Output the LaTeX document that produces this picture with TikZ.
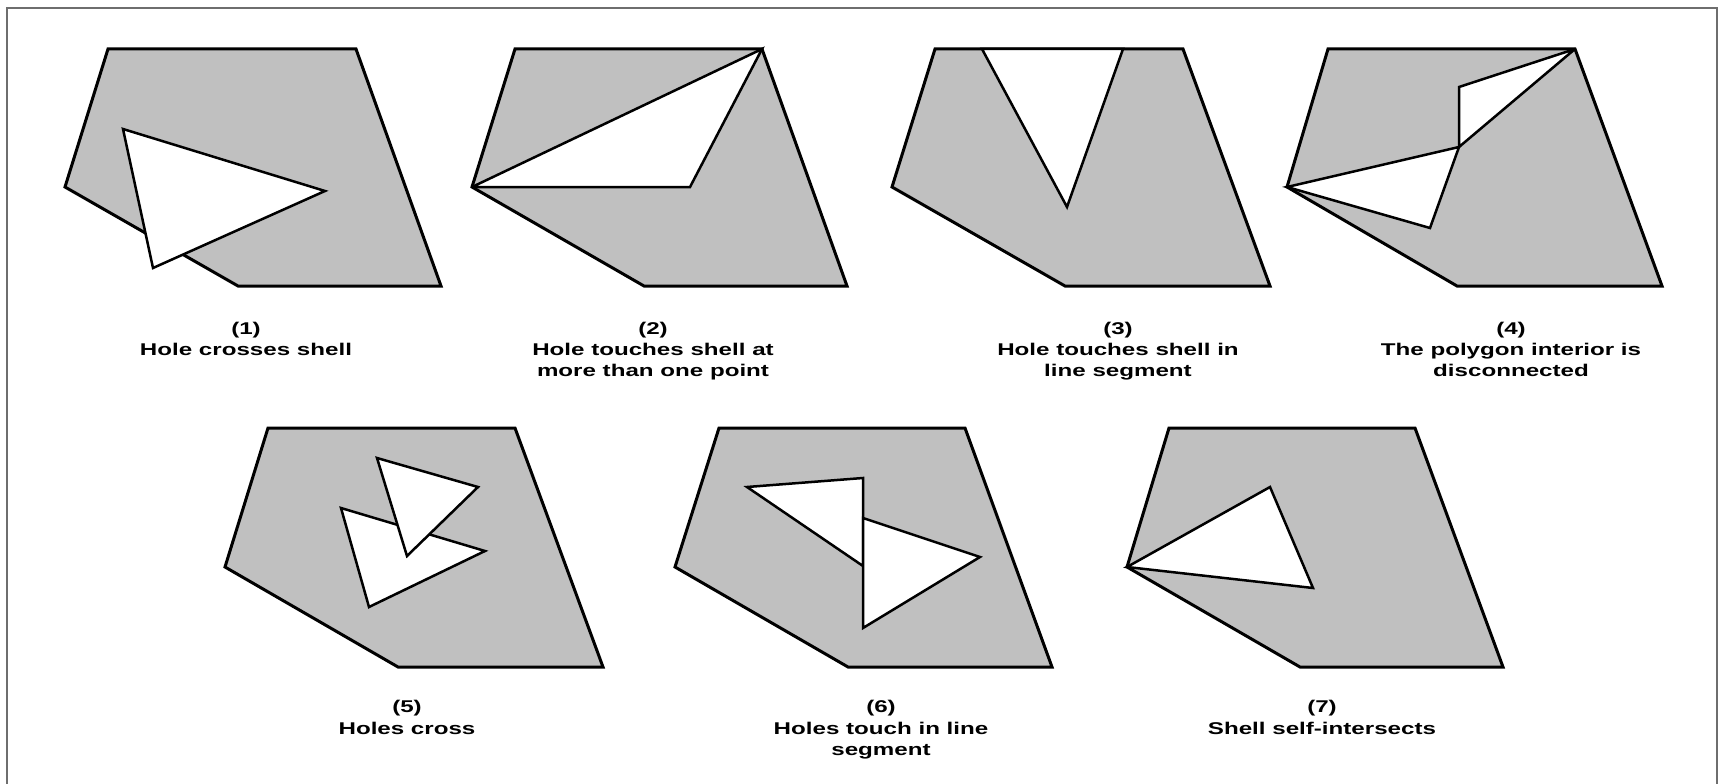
\documentclass[tikz,border=0pt]{standalone}
\usepackage{fontspec}
\newfontfamily\labfont[FakeStretch=1.42]{Liberation Sans}
\definecolor{shellgray}{RGB}{192,192,192}
\definecolor{framegray}{RGB}{110,110,110}
\tikzset{
  shell/.style={fill=shellgray, draw=black, line width=3pt, line join=miter, miter limit=4},
  hole/.style={fill=white, draw=black, line width=2.5pt, line join=miter, miter limit=4},
  lab/.style={font=\labfont\bfseries\fontsize{17}{21}\selectfont, inner sep=0pt, anchor=base},
  frame/.style={draw=framegray, line width=2.5pt}
}
\begin{document}
\begin{tikzpicture}[x=1pt,y=-1pt]
\useasboundingbox (0,0) rectangle (1719,784);
\fill[white] (0,0) rectangle (1719,784);
\draw[frame] (7,790) -- (7,8) -- (1717,8) -- (1717,790);

% (1)
\draw[shell] (108,49) -- (356,49) -- (441,286) -- (238,286) -- (65,187) -- cycle;
\draw[hole] (123,129) -- (325,191) -- (153,268) -- cycle;
\node[lab] (n1) at (246,334) {(1)};
\node[lab] (d1a) at (246,355) {Hole crosses shell};

% (2)
\draw[shell] (515,49) -- (762,49) -- (847,286) -- (644,286) -- (472,187) -- cycle;
\draw[hole] (472,187) -- (762,49) -- (690,187) -- cycle;
\node[lab] (n2) at (653,334) {(2)};
\node[lab] (d2a) at (653,355) {Hole touches shell at};
\node[lab] (d2b) at (653,376) {more than one point};

% (3)
\draw[shell] (935,49) -- (1183,49) -- (1270,286) -- (1065,286) -- (892,187) -- cycle;
\draw[hole] (982,49) -- (1123,49) -- (1067,207) -- cycle;
\node[lab] (n3) at (1118,334) {(3)};
\node[lab] (d3a) at (1118,355) {Hole touches shell in};
\node[lab] (d3b) at (1118,376) {line segment};

% (4)
\draw[shell] (1328,49) -- (1575,49) -- (1662,286) -- (1457,286) -- (1287,187) -- cycle;
\draw[hole] (1287,187) -- (1459,147) -- (1430,228) -- cycle;
\draw[hole] (1459,147) -- (1575,49) -- (1459,87) -- cycle;
\node[lab] (n4) at (1511,334) {(4)};
\node[lab] (d4a) at (1511,355) {The polygon interior is};
\node[lab] (d4b) at (1511,376) {disconnected};

% (5)
\draw[shell] (268,428) -- (515,428) -- (603,667) -- (398,667) -- (225,567) -- cycle;
\draw[hole] (341,508) -- (485,551) -- (369,607) -- cycle;
\draw[hole] (377,458) -- (478,487) -- (407,556) -- cycle;
\node[lab] (n5) at (407,712) {(5)};
\node[lab] (d5a) at (407,734) {Holes cross};

% (6)
\draw[shell] (719,428) -- (965,428) -- (1052,667) -- (848,667) -- (675,567) -- cycle;
\draw[hole] (747,487) -- (863,478) -- (863,566) -- cycle;
\draw[hole] (863,518) -- (980,557) -- (863,628) -- cycle;
\node[lab] (n6) at (881,712) {(6)};
\node[lab] (d6a) at (881,734) {Holes touch in line};
\node[lab] (d6b) at (881,755) {segment};

% (7)
\draw[shell] (1169,428) -- (1415,428) -- (1503,667) -- (1300,667) -- (1127,567) -- cycle;
\draw[hole] (1127,567) -- (1270,487) -- (1313,588) -- cycle;
\node[lab] (n7) at (1322,712) {(7)};
\node[lab] (d7a) at (1322,734) {Shell self-intersects};
\end{tikzpicture}
\end{document}
